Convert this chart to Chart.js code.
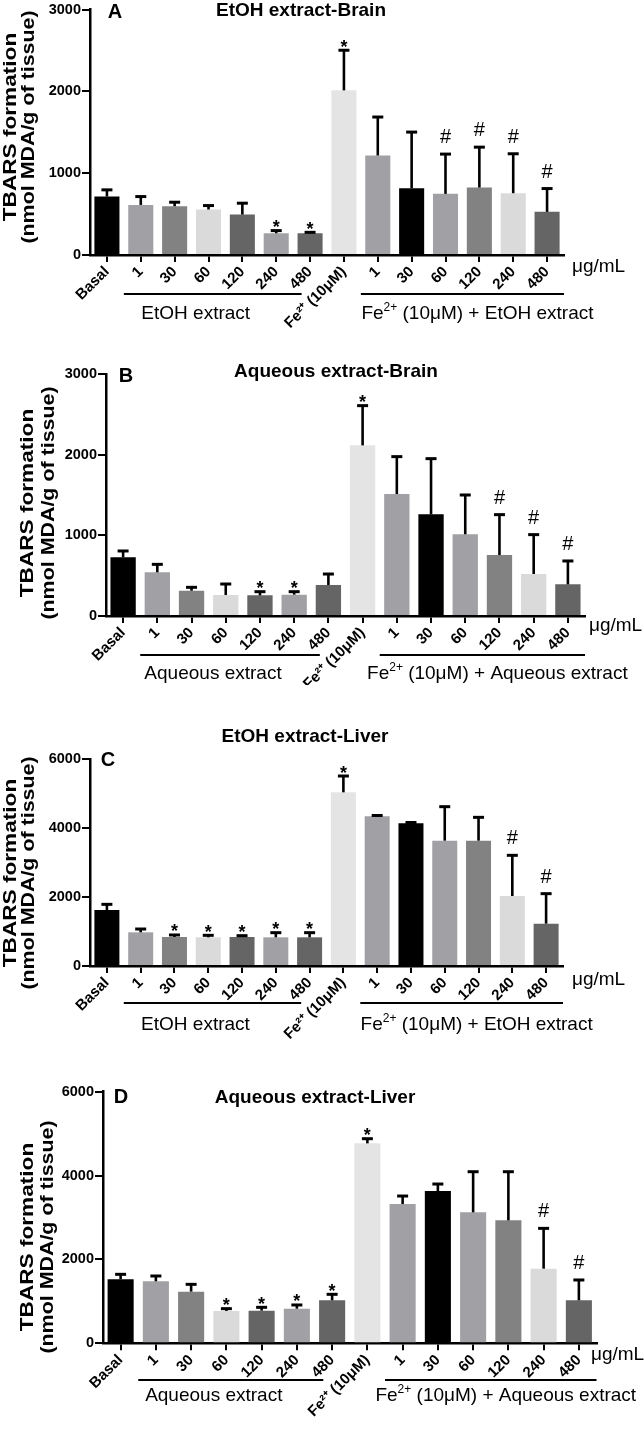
<!DOCTYPE html>
<html>
<head>
<meta charset="utf-8">
<script src="https://cdn.jsdelivr.net/npm/chart.js@4.4.0/dist/chart.umd.min.js"></script>
<style>
  html, body { margin: 0; padding: 0; background: #fff; }
  body { width: 644px; height: 1430px; position: relative; overflow: hidden; }
  canvas { position: absolute; left: 0; }
</style>
</head>
<body>
<canvas id="chartA" width="644" height="335" style="top:0px"></canvas>
<canvas id="chartB" width="644" height="350" style="top:335px"></canvas>
<canvas id="chartC" width="644" height="355" style="top:685px"></canvas>
<canvas id="chartD" width="644" height="390" style="top:1040px"></canvas>
<script>
// ---- data ----
const barLabels = ['Basal', '1', '30', '60', '120', '240', '480', 'Fe²⁺ (10μM)', '1', '30', '60', '120', '240', '480'];
const barColors = ['#000000', '#a1a1a5', '#828282', '#dadada', '#656565', '#a1a1a5', '#656565',
                   '#e4e4e4', '#a1a1a5', '#000000', '#a1a1a5', '#828282', '#dadada', '#656565'];

const brainTicks = [0, 1000, 2000, 3000];
const liverTicks = [0, 2000, 4000, 6000];

// A - EtOH extract, brain
const etohBrainMean = [714, 612, 596, 556, 494, 265, 265, 2012, 1216, 816, 747, 824, 755, 527];
const etohBrainErr  = [82, 102, 49, 48, 139, 33, 12, 490, 470, 686, 486, 494, 482, 285];
const etohBrainSig  = ['', '', '', '', '', '*', '*', '*', '', '', '#', '#', '#', '#'];

// B - aqueous extract, brain
const aqBrainMean = [728, 542, 314, 261, 256, 265, 385, 2118, 1514, 1262, 1014, 757, 521, 393];
const aqBrainErr  = [79, 99, 42, 136, 46, 37, 136, 493, 464, 691, 488, 501, 489, 290];
const aqBrainSig  = ['', '', '', '', '*', '*', '', '*', '', '', '', '#', '#', '#'];

// C - EtOH extract, liver
const etohLiverMean = [1623, 976, 841, 831, 841, 831, 831, 5034, 4338, 4135, 3633, 3633, 2029, 1227];
const etohLiverErr  = [164, 96, 58, 58, 38, 135, 135, 473, 25, 25, 985, 676, 1179, 870];
const etohLiverSig  = ['', '', '*', '*', '*', '*', '*', '*', '', '', '', '', '#', '#'];

// D - aqueous extract, liver
const aqLiverMean = [1526, 1478, 1232, 771, 779, 826, 1025, 4768, 3321, 3631, 3123, 2932, 1780, 1025];
const aqLiverErr  = [119, 127, 174, 55, 79, 88, 143, 111, 191, 167, 969, 1160, 961, 485];
const aqLiverSig  = ['', '', '', '*', '*', '*', '*', '*', '', '', '', '', '#', '#'];

// group captions; odd entries are superscript
const etohGroups = [['EtOH extract'], ['Fe', '2+', ' (10μM) + EtOH extract']];
const aqGroups   = [['Aqueous extract'], ['Fe', '2+', ' (10μM) + Aqueous extract']];

const FONT = '"Liberation Sans", Arial, Helvetica, sans-serif';

// positions per panel (canvas-local pixels)
const panels = [
  { id: 'chartA', H: 335, left: 90, right: 564, top: 9.5, bottom: 255,
    title: 'EtOH extract-Brain', titleX: 301, titleY: 16, letter: 'A', letterX: 115, letterY: 18,
    ugX: 572, ugY: 272, lineY: 294, textY: 319, yt1: 15.5, yt2: 34, ytY: 127,
    mean: etohBrainMean, err: etohBrainErr, sig: etohBrainSig, ticks: brainTicks, groups: etohGroups },
  { id: 'chartB', H: 350, left: 106, right: 585, top: 39.3, bottom: 281,
    title: 'Aqueous extract-Brain', titleX: 336, titleY: 42, letter: 'B', letterX: 126, letterY: 47,
    ugX: 589, ugY: 296, lineY: 320, textY: 344, yt1: 33, yt2: 54, ytY: 168,
    mean: aqBrainMean, err: aqBrainErr, sig: aqBrainSig, ticks: brainTicks, groups: aqGroups },
  { id: 'chartC', H: 355, left: 90, right: 563, top: 74, bottom: 281,
    title: 'EtOH extract-Liver', titleX: 305, titleY: 57, letter: 'C', letterX: 108, letterY: 81,
    ugX: 572, ugY: 300, lineY: 318, textY: 345, yt1: 15.5, yt2: 34, ytY: 188,
    mean: etohLiverMean, err: etohLiverErr, sig: etohLiverSig, ticks: liverTicks, groups: etohGroups },
  { id: 'chartD', H: 390, left: 103, right: 596.5, top: 51.7, bottom: 303.3,
    title: 'Aqueous extract-Liver', titleX: 315, titleY: 63, letter: 'D', letterX: 121, letterY: 63,
    ugX: 591, ugY: 320, lineY: 340, textY: 361, yt1: 33, yt2: 53, ytY: 197,
    mean: aqLiverMean, err: aqLiverErr, sig: aqLiverSig, ticks: liverTicks, groups: aqGroups }
];

// draw text made of normal / superscript pieces, centred on cx
function drawRich(ctx, parts, cx, y, size) {
  const fonts = parts.map((t, i) => (i % 2 ? Math.round(size * 0.62) : size) + 'px ' + FONT);
  let total = 0;
  const widths = parts.map((t, i) => { ctx.font = fonts[i]; const w = ctx.measureText(t).width; total += w; return w; });
  let x = cx - total / 2;
  ctx.textAlign = 'left';
  parts.forEach((t, i) => {
    ctx.font = fonts[i];
    ctx.fillText(t, x, i % 2 ? y - size * 0.4 : y);
    x += widths[i];
  });
}

function makeDecor(p) {
  return {
    id: 'decor_' + p.id,
    afterDatasetsDraw(chart) {
      const ctx = chart.ctx;
      const yScale = chart.scales.y;
      const meta = chart.getDatasetMeta(0);
      ctx.save();
      ctx.strokeStyle = '#000';
      ctx.fillStyle = '#000';
      ctx.textAlign = 'center';
      meta.data.forEach((bar, i) => {
        const top = yScale.getPixelForValue(p.mean[i] + p.err[i]);
        ctx.lineWidth = 2.6;
        ctx.beginPath();
        ctx.moveTo(bar.x, bar.y);
        ctx.lineTo(bar.x, top);
        ctx.stroke();
        ctx.lineWidth = 3;
        ctx.beginPath();
        ctx.moveTo(bar.x - 5.5, top);
        ctx.lineTo(bar.x + 5.5, top);
        ctx.stroke();
        if (p.sig[i] === '*') {
          ctx.font = 'bold 18px ' + FONT;
          ctx.fillText('*', bar.x, top + 2.5);
        } else if (p.sig[i] === '#') {
          ctx.font = '20px ' + FONT;
          ctx.fillText('#', bar.x, top - 11);
        }
      });
      ctx.restore();
    },
    afterDraw(chart) {
      const ctx = chart.ctx;
      const xs = chart.scales.x;
      const cat = xs.getPixelForValue(1) - xs.getPixelForValue(0);
      ctx.save();
      ctx.fillStyle = '#000';
      ctx.strokeStyle = '#000';
      ctx.textBaseline = 'alphabetic';

      // title and panel letter
      ctx.textAlign = 'center';
      ctx.font = 'bold 19px ' + FONT;
      ctx.fillText(p.title, p.titleX, p.titleY);
      ctx.font = 'bold 20px ' + FONT;
      ctx.fillText(p.letter, p.letterX, p.letterY);

      // unit label
      ctx.textAlign = 'left';
      ctx.font = '19px ' + FONT;
      ctx.fillText('μg/mL', p.ugX, p.ugY);

      // group brackets
      const g1a = xs.getPixelForValue(1) - cat / 2, g1b = xs.getPixelForValue(6) - cat / 4;
      const g2a = xs.getPixelForValue(8) - cat / 2, g2b = xs.getPixelForValue(13) + cat / 2;
      ctx.lineWidth = 2;
      ctx.beginPath();
      ctx.moveTo(g1a, p.lineY); ctx.lineTo(g1b, p.lineY);
      ctx.moveTo(g2a, p.lineY); ctx.lineTo(g2b, p.lineY);
      ctx.stroke();
      drawRich(ctx, p.groups[0], (g1a + g1b) / 2 - 17, p.textY, 19);
      drawRich(ctx, p.groups[1], (g2a + g2b) / 2 + 15, p.textY, 19);

      // y axis title, two lines
      ctx.textAlign = 'center';
      [[p.yt1, 'bold 19px ', 'TBARS formation'], [p.yt2, 'bold 18px ', '(nmol MDA/g of tissue)']].forEach(l => {
        ctx.save();
        ctx.translate(l[0], p.ytY);
        ctx.rotate(-Math.PI / 2);
        ctx.scale(1.19, 1);
        ctx.font = l[1] + FONT;
        ctx.fillText(l[2], 0, 0);
        ctx.restore();
      });
      ctx.restore();
    }
  };
}

function buildPanel(p) {
  return new Chart(document.getElementById(p.id), {
    type: 'bar',
    data: {
      labels: barLabels,
      datasets: [{
        data: p.mean,
        backgroundColor: barColors,
        borderWidth: 0,
        barPercentage: 0.74,
        categoryPercentage: 1
      }]
    },
    options: {
      responsive: false,
      animation: false,
      devicePixelRatio: 1,
      layout: { autoPadding: false, padding: { left: 0, right: 644 - p.right, top: p.top, bottom: 0 } },
      plugins: { legend: { display: false }, tooltip: { enabled: false } },
      scales: {
        x: {
          z: 1,
          grid: { offset: false, drawOnChartArea: false, tickLength: 7, lineWidth: 2, color: '#000' },
          border: { color: '#000', width: 2.5 },
          ticks: {
            color: '#000', autoSkip: false, minRotation: 45, maxRotation: 45, padding: 1,
            font: { family: FONT, size: 15, weight: 'bold' }
          },
          afterFit: s => { s.height = p.H - p.bottom; }
        },
        y: {
          min: 0,
          max: p.ticks[p.ticks.length - 1],
          afterBuildTicks: s => { s.ticks = p.ticks.map(v => ({ value: v })); },
          grid: { drawOnChartArea: false, tickLength: 8, lineWidth: 2, color: '#000' },
          border: { color: '#000', width: 2.5 },
          ticks: {
            color: '#000', padding: 1,
            font: { family: FONT, size: 14.5, weight: 'bold', lineHeight: 1 },
            callback: v => String(v)
          },
          afterFit: s => { s.width = p.left; }
        }
      }
    },
    plugins: [makeDecor(p)]
  });
}

panels.forEach(buildPanel);
</script>
</body>
</html>
